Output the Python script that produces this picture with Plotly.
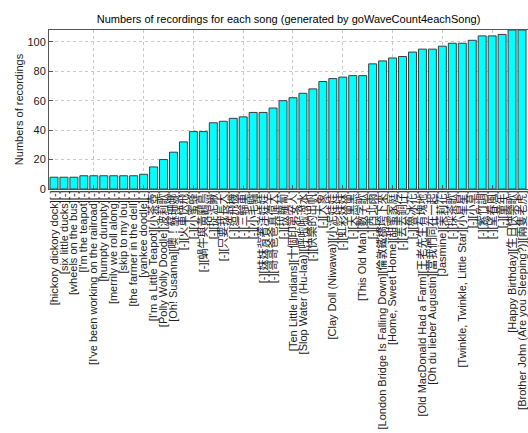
import plotly.graph_objects as go

# Song names: [English title][Chinese title]
songs = [
    "[hickory dickory dock][-]",
    "[six little ducks][-]",
    "[wheels on the bus][-]",
    "[I'm the teapot][-]",
    "[I've been working on the railroad][-]",
    "[humpty dumpty][-]",
    "[merrily we roll along][-]",
    "[skip to my lou][-]",
    "[the farmer in the dell][-]",
    "[yankee doodle][-]",
    "[I'm a Little Teapot][小茶壺]",
    "[Polly Wolly Doodle][波莉歌]",
    "[Oh! Susanna][噢！蘇珊娜]",
    "[-][火車快飛]",
    "[-][小蜜蜂]",
    "[-][蝸牛與黃鸝鳥]",
    "[-][捉泥鰍]",
    "[-][只要我長大]",
    "[-][造飛機]",
    "[-][三輪車]",
    "[-][小毛驢]",
    "[-][妹妹背著洋娃娃]",
    "[-][哥哥爸爸真偉大]",
    "[-][拔蘿蔔]",
    "[Ten Little Indians][十個印第安人]",
    "[Slop Water (Hu-laa)][呼啦啦潑水]",
    "[-][快樂的出帆]",
    "[-][大象]",
    "[Clay Doll (Niwawa)][小泥娃娃]",
    "[-][虹彩妹妹]",
    "[-][天黑黑]",
    "[This Old Man][數字歌]",
    "[-][西北雨]",
    "[London Bridge Is Falling Down][倫敦鐵橋垮下來]",
    "[Home, Sweet Home][甜蜜家庭]",
    "[-][丟丟銅仔]",
    "[-][魯冰花]",
    "[Old MacDonald Had a Farm][王老先生有塊地]",
    "[Oh du lieber Augustin][當我們同在一起]",
    "[Jasmine][茉莉花]",
    "[-][採茶歌]",
    "[Twinkle, Twinkle, Little Star][小星星]",
    "[-][小草]",
    "[-][紫竹調]",
    "[-][望春風]",
    "[-][童年]",
    "[Happy Birthday][生日快樂歌]",
    "[Brother John (Are you Sleeping?)][兩隻老虎]",
]

counts = [
    8, 8, 8, 9, 9, 9, 9, 9, 9, 10,
    15, 20, 25, 32, 39, 39, 45, 46, 48, 49,
    52, 52, 55, 60, 62, 65, 68, 73, 75, 76,
    77, 77, 85, 87, 89, 90, 93, 95, 95, 97,
    99, 99, 101, 104, 104, 105, 108, 108,
]

y_ticks = [0, 20, 40, 60, 80, 100]
x_grid_ticks = [5, 10, 15, 20, 25, 30, 35, 40, 45]

song_index = list(range(1, len(counts) + 1))

fig = go.Figure()
fig.add_trace(go.Bar(
    x=song_index,
    y=counts,
    width=0.8,
    marker=dict(color="#00FFFF", line=dict(color="#3c3c3c", width=1)),
    showlegend=False,
))

grid_color = "#c8c8c8"
label_font = "Liberation Sans, Arial, Noto Sans CJK TC, sans-serif"

fig.update_layout(
    width=528,
    height=433,
    autosize=False,
    margin=dict(l=49, r=0, t=30, b=244),
    paper_bgcolor="white",
    plot_bgcolor="white",
    font=dict(family=label_font, color="black"),
    title=dict(
        text="Numbers of recordings for each song (generated by goWaveCount4eachSong)",
        x=0.5, xref="paper", xanchor="center",
        y=1 - 19.5 / 433, yref="container", yanchor="middle",
        font=dict(size=11, color="black"),
    ),
    bargap=0.2,
)

fig.update_xaxes(
    range=[0.5, 48.6],
    tickmode="array",
    tickvals=song_index,
    ticktext=songs,
    tickangle=-90,
    tickfont=dict(size=11, color="#202020", family=label_font),
    ticks="",
    showgrid=False,
    minor=dict(tickmode="array", tickvals=x_grid_ticks, showgrid=True,
               gridcolor=grid_color, griddash="dot", gridwidth=1,
               ticks="inside", ticklen=4, tickcolor="#555"),
    showline=True, linecolor="#555", linewidth=1, mirror=True,
    automargin=False,
    zeroline=False,
    ticklabelstandoff=-4,
    ticklabeloverflow="allow",
)

fig.update_yaxes(
    range=[0, 108],
    tickmode="array",
    tickvals=y_ticks,
    ticks="inside",
    ticklen=4,
    tickcolor="#555",
    tickfont=dict(size=11, color="#202020"),
    showgrid=True,
    gridcolor=grid_color,
    griddash="dot",
    gridwidth=1,
    showline=True, linecolor="#555", linewidth=1, mirror=False,
    zeroline=False,
    title=dict(text="Numbers of recordings", font=dict(size=11, color="#202020"), standoff=1),
    automargin=False,
)

fig.write_html("out.html")
